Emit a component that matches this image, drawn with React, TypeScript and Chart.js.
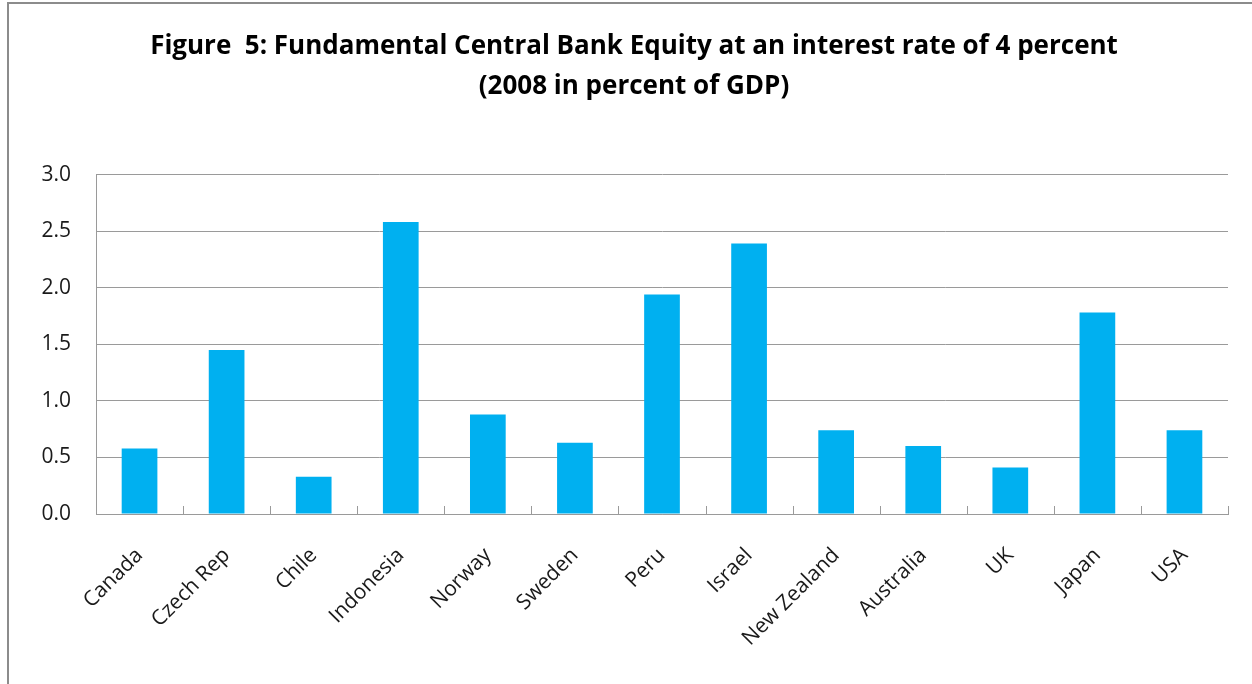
import React, { useEffect, useRef } from "react";
import { Chart, registerables } from "chart.js";

Chart.register(...registerables);

const categories = [
  "Canada",
  "Czech Rep",
  "Chile",
  "Indonesia",
  "Norway",
  "Sweden",
  "Peru",
  "Israel",
  "New Zealand",
  "Australia",
  "UK",
  "Japan",
  "USA",
];
const equityValues = [0.58, 1.45, 0.33, 2.58, 0.88, 0.63, 1.94, 2.39, 0.74, 0.6, 0.41, 1.78, 0.74];
const yMin = 0;
const yMax = 3;
const yStep = 0.5;
const titleLines = [
  "Figure  5: Fundamental Central Bank Equity at an interest rate of 4 percent",
  "(2008 in percent of GDP)",
];

const FONT = "'Open Sans', Lato, sans-serif";
const GRID = "#9a9a9a";

const innerTicks = {
  id: "innerTicks",
  afterLayout(chart: any) {
    const t = chart.titleBlock;
    if (t) t.left += 40;
  },
  beforeDatasetsDraw(chart: any) {
    const xs = chart.scales.x;
    const { ctx, chartArea } = chart;
    const n = xs.ticks.length;
    if (n < 2) return;
    const half = (xs.getPixelForValue(1) - xs.getPixelForValue(0)) / 2;
    ctx.save();
    ctx.strokeStyle = GRID;
    ctx.lineWidth = 1;
    for (let i = 0; i < n; i++) {
      const px = Math.round(xs.getPixelForValue(i) + half) + 0.5;
      ctx.beginPath();
      ctx.moveTo(px, chartArea.bottom);
      ctx.lineTo(px, chartArea.bottom - 8);
      ctx.stroke();
    }
    ctx.restore();
  },
};

export default function App() {
  const canvasRef = useRef<HTMLCanvasElement | null>(null);

  useEffect(() => {
    document.body.style.margin = "0";
    document.body.style.overflow = "hidden";
    const canvas = canvasRef.current;
    if (!canvas) return;
    const chart = new Chart(canvas, {
      type: "bar",
      data: {
        labels: categories,
        datasets: [
          {
            data: equityValues,
            backgroundColor: "#00B0F0",
            borderWidth: 0,
            barPercentage: 0.41,
            categoryPercentage: 1,
          },
        ],
      },
      options: {
        animation: false,
        responsive: true,
        maintainAspectRatio: false,
        layout: { padding: { left: 0, right: 24, top: 0, bottom: 0 } },
        plugins: {
          legend: { display: false },
          tooltip: { enabled: false },
          title: {
            display: true,
            text: titleLines,
            color: "#000",
            font: { family: FONT, size: 26, weight: "bold", lineHeight: 1.55 },
            padding: { top: 26, bottom: 68 },
          },
        },
        scales: {
          x: {
            grid: { display: false, drawTicks: false },
            border: { display: true, color: GRID, width: 1 },
            ticks: {
              color: "#1a1a1a",
              font: { family: FONT, size: 21 },
              maxRotation: 45,
              minRotation: 45,
              padding: 29,
              autoSkip: false,
            },
            afterFit: (scale: any) => {
              scale.height = 170;
            },
          },
          y: {
            min: yMin,
            max: yMax,
            ticks: {
              stepSize: yStep,
              color: "#1a1a1a",
              font: { family: FONT, size: 21 },
              padding: 25,
              callback: (v: any) => Number(v).toFixed(1),
            },
            grid: { color: GRID, lineWidth: 1, drawTicks: false },
            border: { display: true, color: GRID, width: 1 },
            afterFit: (scale: any) => {
              scale.width = 96;
            },
          },
        },
      },
      plugins: [innerTicks],
    });
    return () => chart.destroy();
  }, []);

  return (
    <div style={{ position: "relative", width: 1252, height: 684, overflow: "hidden", background: "#fff" }}>
      <div
        style={{
          position: "absolute",
          left: 7,
          top: 2,
          width: 1400,
          height: 800,
          borderLeft: "2px solid #8c8c8c",
          borderTop: "2px solid #8c8c8c",
        }}
      />
      <canvas ref={canvasRef} style={{ position: "absolute", left: 0, top: 0, width: 1252, height: 684 }} />
    </div>
  );
}
